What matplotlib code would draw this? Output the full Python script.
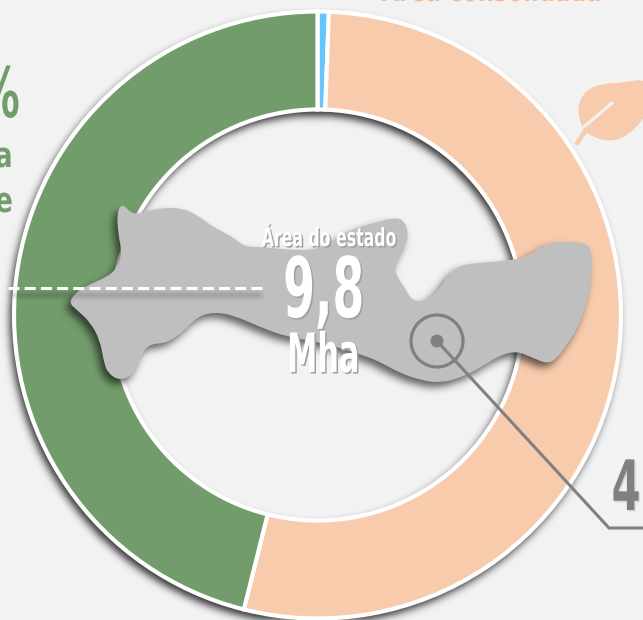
#!/usr/bin/env python3
import numpy as np
import matplotlib
matplotlib.use('Agg')
import matplotlib.pyplot as plt
import matplotlib.patheffects as pe
from matplotlib.colors import to_rgba
from matplotlib.patches import Circle, PathPatch
from matplotlib.path import Path
from matplotlib.transforms import Affine2D

W, H = 643, 620

# ── Data ───────────────────────────────────────────────────────────
shares = [0.6, 53.3, 46.1]
share_colors = ['#66c5fb', '#f8cbad', '#739c6c']

state_x = [122, 133, 147, 163, 182, 197, 213, 233, 245, 262, 290, 317, 335, 350, 370, 397, 405, 408,
           407, 400, 394, 398, 405, 410, 418, 430, 440, 448, 460, 480, 513, 527, 540, 553, 573, 588,
           592, 592, 587, 577, 563, 557, 548, 533, 517, 500, 480, 460, 440, 420, 400, 380, 363, 320,
           287, 260, 233, 213, 197, 183, 167, 150, 142, 138, 130, 118, 108, 104, 100, 90, 77, 69, 75,
           88, 107, 117, 122, 118, 117]
state_y = [203, 215, 211, 208, 208, 215, 227, 237, 247, 247, 250, 250, 240, 230, 224, 217, 222, 232,
           242, 255, 268, 278, 288, 298, 302, 298, 288, 275, 265, 263, 260, 257, 247, 242, 242, 244,
           253, 277, 303, 330, 350, 358, 364, 358, 351, 355, 368, 378, 383, 380, 373, 362, 355, 342,
           337, 327, 315, 312, 317, 332, 343, 344, 353, 367, 377, 380, 373, 363, 340, 322, 310, 303,
           293, 285, 277, 268, 253, 233, 213]

leaf_x = [650, 620, 600, 585, 577, 581, 587, 607, 627, 650]
leaf_y = [78, 83, 84, 91, 107, 126, 134, 142, 137, 112]

CX, CY, R_OUT, RING = 317.5, 305.0, 303.5, 98.0
INK = '#808080'


def flip(y):
    return H - np.asarray(y, dtype=float)


def smooth_path(x, y):
    # quadratic curves through the midpoints of the traced outline
    pts = np.column_stack([x, y])
    mids = (pts + np.roll(pts, -1, axis=0)) / 2
    verts, codes = [mids[-1]], [Path.MOVETO]
    for p, m in zip(pts, mids):
        verts += [p, m]
        codes += [Path.CURVE3, Path.CURVE3]
    return Path(verts, codes)


def blur(mask, sigma):
    pad = (mask.shape[0] + 60, mask.shape[1] + 60)
    fy = np.fft.fftfreq(pad[0])[:, None]
    fx = np.fft.rfftfreq(pad[1])[None, :]
    kernel = np.exp(-2 * (np.pi * sigma) ** 2 * (fx ** 2 + fy ** 2))
    out = np.fft.irfft2(np.fft.rfft2(mask, s=pad) * kernel, s=pad)
    return np.clip(out[:mask.shape[0], :mask.shape[1]], 0, 1)


def draw_shadow(ax, mask, sigma, strength, zorder):
    rgba = np.zeros(mask.shape + (4,))
    rgba[..., 3] = blur(mask.astype(float), sigma) * strength
    ax.imshow(rgba, extent=(0, W, 0, H), origin='lower', aspect='auto', zorder=zorder, interpolation='bilinear')


class Narrow(pe.AbstractPathEffect):
    # squeezes the glyphs sideways, the installed fonts are all wider than the original one
    def __init__(self, sx, shadow=None, offset=(1.5, -1.5)):
        super().__init__()
        self.sx, self.off = sx, offset
        self.shadow = to_rgba(shadow) if shadow else None

    def draw_path(self, renderer, gc, tpath, affine, rgbFace=None):
        ext = tpath.get_extents(affine)
        x0 = (ext.x0 + ext.x1) / 2
        squeeze = affine + Affine2D().translate(-x0, 0).scale(self.sx, 1).translate(x0, 0)
        if self.shadow:
            renderer.draw_path(gc, tpath, squeeze + Affine2D().translate(*self.off), self.shadow)
        renderer.draw_path(gc, tpath, squeeze, rgbFace)


def label(ax, x, y, s, size, color, sx, shadow=None, ha='center'):
    ax.text(x, H - y, s, fontsize=size, color=color, ha=ha, va='baseline', family='DejaVu Sans',
            fontweight='bold', zorder=10, path_effects=[Narrow(sx, shadow)])


# ── Figure ─────────────────────────────────────────────────────────
fig = plt.figure(figsize=(W / 100, H / 100), dpi=100, facecolor='#f2f2f2')
ax = fig.add_axes([0, 0, 1, 1])
ax.set_facecolor('#f2f2f2')

yy, xx = np.mgrid[0:H, 0:W] + 0.5

# ring shadow, thrown down and to the left
rr = np.hypot(xx - (CX - 3), yy - (CY - 5))
draw_shadow(ax, (rr < R_OUT + 1) & (rr > R_OUT - RING - 1), 4, 0.8, 1)

ax.pie(shares, colors=share_colors, startangle=90, counterclock=False, radius=R_OUT, center=(CX, CY),
       wedgeprops=dict(width=RING, edgecolor='white', linewidth=3.0), frame=False)
for w in ax.patches:
    w.set_zorder(2)

# state shape and its shadow
state_path = smooth_path(state_x, flip(state_y))
grid = np.column_stack([xx.ravel() + 4, yy.ravel() + 5])
draw_shadow(ax, state_path.contains_points(grid).reshape(xx.shape), 4, 0.6, 3)
ax.add_patch(PathPatch(state_path, facecolor='#bfbfbf', edgecolor='none', zorder=4))

# leaf icon
ax.add_patch(PathPatch(smooth_path(leaf_x, flip(leaf_y)), facecolor=share_colors[1], edgecolor='none', zorder=2))
ax.plot([612, 584], flip([103, 127]), color='#f2f2f2', lw=2.4, solid_capstyle='round', zorder=3)
ax.plot([587, 576], flip([128, 145]), color=share_colors[1], lw=3.2, solid_capstyle='butt', zorder=3)

# dashed leader, the shadow is one soft bar under the dashes
dash_x, dash_y = [8, 266], [288, 288]
draw_shadow(ax, (xx > 12) & (xx < 262) & (np.abs(yy - flip(295)) < 2), 2.5, 0.25, 5)
ax.plot(dash_x, flip(dash_y), color='white', lw=2.2, dashes=(3.6, 1.7), zorder=6)

# marker and its leader
ax.add_patch(Circle((437, H - 341), 26, facecolor='none', edgecolor=INK, lw=2.3, zorder=7))
ax.add_patch(Circle((437, H - 341), 6.5, facecolor=INK, edgecolor='none', zorder=7))
ax.plot([437, 609, 650], flip([341, 528, 528]), color=INK, lw=2.2, solid_joinstyle='miter', zorder=7)

# texts
label(ax, 329.5, 246, 'Área do estado', 18, 'white', 0.63, '#a0a0a0')
label(ax, 324, 317, '9,8', 60, 'white', 0.55, '#a0a0a0')
label(ax, 323, 372, 'Mha', 39, 'white', 0.56, '#a0a0a0')
label(ax, 626, 510, '4', 50, INK, 0.6, '#d8d8d8')
label(ax, 492, 1, 'Área consolidada', 24, '#f8b88f', 0.68)
label(ax, -1, 117, '%', 50, share_colors[2], 0.6)
label(ax, 4, 167, 'a', 25, share_colors[2], 0.75)
label(ax, 4, 212, 'e', 25, share_colors[2], 0.75)

ax.set_xlim(0, W)
ax.set_ylim(0, H)
ax.set_aspect('auto')
ax.axis('off')

fig.savefig('out.png', dpi=100, facecolor=fig.get_facecolor())
plt.close()
